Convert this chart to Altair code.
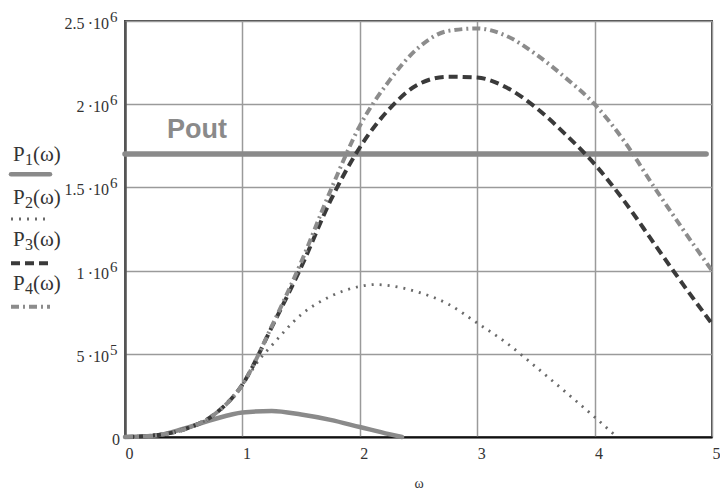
import altair as alt
import pandas as pd

# ---- power curves P1..P4 against angular frequency ω ----
omega_p1 = [0, 0.25, 0.5, 0.75, 1.0, 1.25, 1.5, 1.75, 2.0, 2.25, 2.36]
p1 = [0, 8e3, 50e3, 105e3, 147e3, 156e3, 135e3, 103e3, 60e3, 17e3, 0]

omega_p2 = [0, 0.25, 0.5, 0.75, 1.0, 1.15, 1.25, 1.5, 1.75, 2.0, 2.13, 2.25,
            2.5, 2.75, 3.0, 3.25, 3.5, 3.75, 4.0, 4.19]
p2 = [0, 10e3, 45e3, 130e3, 315e3, 470e3, 550e3, 735e3, 845e3, 905e3, 916e3,
      910e3, 870e3, 800e3, 685e3, 565e3, 421e3, 272e3, 120e3, 0]

omega = [0, 0.25, 0.5, 0.75, 1.0, 1.25, 1.5, 1.75, 2.0, 2.25, 2.5, 2.75, 3.0,
         3.25, 3.5, 3.75, 4.0, 4.25, 4.5, 4.75, 5.0]
p3 = [0, 10e3, 45e3, 130e3, 315e3, 660e3, 1.02e6, 1.42e6, 1.74e6, 1.97e6,
      2.12e6, 2.165e6, 2.16e6, 2.10e6, 1.98e6, 1.82e6, 1.64e6, 1.42e6, 1.17e6,
      0.92e6, 0.68e6]
p4 = [0, 10e3, 45e3, 130e3, 315e3, 665e3, 1.05e6, 1.48e6, 1.87e6, 2.14e6,
      2.34e6, 2.44e6, 2.455e6, 2.41e6, 2.30e6, 2.16e6, 2.0e6, 1.78e6, 1.51e6,
      1.25e6, 1.0e6]

# required output power level
pout_level = 1.7e6
pout_omega = [0.0, 4.95]

# axis ticks
x_ticks = [0, 1, 2, 3, 4, 5]
y_ticks = [0, 5e5, 1e6, 1.5e6, 2e6, 2.5e6]
y_mantissa = ["0", "5\u2009·10", "1\u2009·10", "1.5\u2009·10", "2\u2009·10", "2.5\u2009·10"]
y_exponent = ["", "5", "6", "6", "6", "6"]

SERIF = "Liberation Serif"
SANS = "Liberation Sans"
TEXT = "#333333"
W, H = 587, 416
TOP = 21

x_scale = alt.Scale(domain=[0, 5], nice=False, zero=False)
y_scale = alt.Scale(domain=[0, 2.5e6], nice=False)

x_axis = alt.Axis(values=x_ticks, format="d", ticks=False, grid=True,
                  labelAlign="left", labelFont=SERIF, labelFontSize=16,
                  labelColor=TEXT, labelPadding=8, labelFlush=False,
                  domainColor="#111111", domainWidth=2,
                  title="ω", titleFont=SERIF, titleFontSize=14,
                  titleFontWeight="normal", titleColor=TEXT, titlePadding=15)
y_axis = alt.Axis(values=y_ticks, labels=False, ticks=False, grid=True,
                  title=None, domainColor="#555555", domainWidth=2.5)


def X(field):
    return alt.X(f"{field}:Q", scale=x_scale, axis=x_axis)


def Y(field):
    return alt.Y(f"{field}:Q", scale=y_scale, axis=y_axis)


def curve(xs, ys, color, width, dash=None, cap="butt"):
    df = pd.DataFrame({"omega": xs, "P": ys})
    kw = dict(color=color, strokeWidth=width, strokeCap=cap, interpolate="monotone")
    if dash:
        kw["strokeDash"] = dash
    return alt.Chart(df).mark_line(**kw).encode(x=X("omega"), y=Y("P"))


pout_df = pd.DataFrame({"omega": pout_omega, "P": [pout_level] * len(pout_omega)})
pout_line = alt.Chart(pout_df).mark_line(
    color="#8a8a8a", strokeWidth=5.5, strokeCap="round"
).encode(x=X("omega"), y=Y("P"))

styles = {
    1: dict(color="#8a8a8a", width=4.5, dash=None, cap="round"),
    2: dict(color="#6a6a6a", width=2.8, dash=[2, 6], cap="butt"),
    3: dict(color="#3a3a3a", width=4, dash=[9, 5], cap="butt"),
    4: dict(color="#8c8c8c", width=4, dash=[8, 4, 2, 4], cap="butt"),
}

curves = [
    curve(omega_p1, p1, **styles[1]),
    curve(omega_p2, p2, **styles[2]),
    curve(omega, p3, **styles[3]),
    curve(omega, p4, **styles[4]),
]

pout_text = alt.Chart(pd.DataFrame({"k": [0]})).mark_text(
    text="Pout", font=SANS, fontWeight="bold", fontSize=27, color="#8a8a8a",
    align="left", baseline="alphabetic"
).encode(x=alt.value(42), y=alt.value(138.3 - TOP))

# y tick labels written as mantissa·10 with a raised exponent
ydf = pd.DataFrame({"v": y_ticks, "m": y_mantissa, "e": y_exponent})
y_base = alt.Chart(ydf).transform_filter("datum.v > 0").mark_text(
    align="right", baseline="middle", dy=3, font=SERIF, fontSize=16, color=TEXT
).encode(y=Y("v"), x=alt.value(-16), text="m:N")
y_zero = alt.Chart(ydf).transform_filter("datum.v == 0").mark_text(
    align="right", baseline="middle", dy=3, font=SERIF, fontSize=16, color=TEXT
).encode(y=Y("v"), x=alt.value(-5), text="m:N")
y_exp = alt.Chart(ydf).transform_filter("datum.v > 0").mark_text(
    align="left", baseline="middle", dy=-4, font=SERIF, fontSize=15, color=TEXT
).encode(y=Y("v"), x=alt.value(-15), text="e:N")

# legend at the left: P_i(ω) followed by a sample of the line style
legend_layers = []
legend_baselines = {1: 160.7, 2: 203.5, 3: 246.0, 4: 290.0}
legend_samples = {1: 174.3, 2: 219.0, 3: 263.3, 4: 306.7}
one = pd.DataFrame({"k": [0]})
for i in range(1, 5):
    b = legend_baselines[i] - TOP
    legend_layers.append(alt.Chart(one).mark_text(
        text="P", font=SERIF, fontSize=21, color=TEXT, align="left",
        baseline="alphabetic").encode(x=alt.value(-112), y=alt.value(b)))
    legend_layers.append(alt.Chart(one).mark_text(
        text=str(i), font=SERIF, fontSize=16, color=TEXT, align="left",
        baseline="alphabetic").encode(x=alt.value(-100), y=alt.value(b + 4)))
    legend_layers.append(alt.Chart(one).mark_text(
        text="(ω)", font=SERIF, fontSize=21, color=TEXT, align="left",
        baseline="alphabetic").encode(x=alt.value(-92), y=alt.value(b)))
    st = styles[i]
    kw = dict(color=st["color"], strokeWidth=st["width"], strokeCap=st["cap"])
    if st["dash"]:
        kw["strokeDash"] = st["dash"]
    sy = legend_samples[i] - TOP
    legend_layers.append(alt.Chart(one).mark_rule(**kw).encode(
        x=alt.value(-114), x2=alt.value(-75), y=alt.value(sy)))

chart = alt.layer(
    pout_line, *curves, pout_text, y_base, y_zero, y_exp, *legend_layers
).properties(
    width=W, height=H,
    padding={"left": 125, "top": TOP, "right": 8, "bottom": 496 - TOP - H},
    autosize="none", background="white",
).configure_view(
    stroke="#444444", strokeWidth=2
).configure_axis(
    gridColor="#9a9a9a", gridWidth=1.5, gridOpacity=1
)

chart.save("out.html", embed_options={"renderer": "svg", "actions": False})
